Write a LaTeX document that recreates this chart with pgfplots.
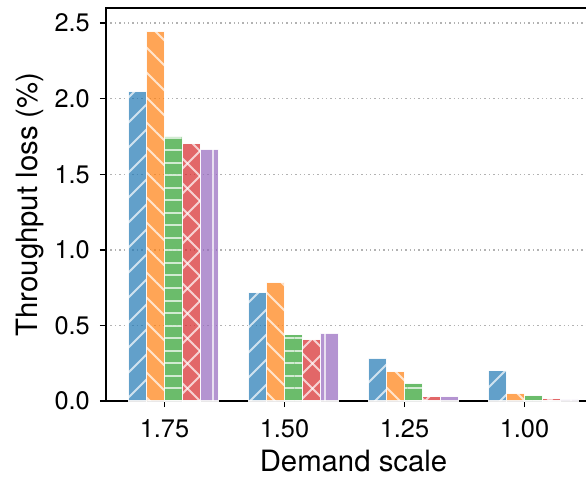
\documentclass[border=0pt]{standalone}
\usepackage{fontspec}
\setmainfont{TeX Gyre Heros}
\usepackage{pgfplots}
\pgfplotsset{compat=1.18}
\usetikzlibrary{patterns.meta}
\definecolor{tblue}{RGB}{31,119,180}
\definecolor{torange}{RGB}{255,127,14}
\definecolor{tgreen}{RGB}{44,160,44}
\definecolor{tred}{RGB}{214,39,40}
\definecolor{tpurple}{RGB}{148,103,189}
\begin{document}
\begin{tikzpicture}
\useasboundingbox (-79.5pt,-56.25pt) rectangle (360pt,300.75pt);
\clip (-79.5pt,-56.25pt) rectangle (360pt,300.75pt);
\begin{axis}[
  at={(0,0)}, anchor=south west,
  scale only axis, width=371.25pt, height=294.75pt,
  xmin=-0.4875, xmax=3.6375, ymin=0, ymax=2.6,
  ybar, bar width=0.15,
  xtick={0,1,2,3}, xticklabels={1.75,1.50,1.25,1.00},
  ytick={0,0.5,1,1.5,2,2.5}, yticklabels={0.0,0.5,1.0,1.5,2.0,2.5},
  xtick pos=left, ytick pos=left,
  tick align=outside, major tick length=4.5pt,
  every tick/.style={black, line width=1.1pt},
  axis line style={black, line width=1.3pt},
  ymajorgrids, grid style={dash pattern=on 1.1pt off 2.2pt, gray!60, line width=1pt},
  ticklabel style={font=\fontsize{19}{22}\selectfont},
  xticklabel style={anchor=north, inner sep=0pt, yshift=-9pt},
  yticklabel style={anchor=east, inner sep=0pt, xshift=-7.5pt},
  label style={font=\fontsize{22}{26}\selectfont},
  xlabel={Demand scale}, ylabel={Throughput loss (\%)},
  xlabel style={at={(axis description cs:0.5,-0.17812)}, anchor=base},
  ylabel style={at={(axis description cs:-0.13939,0.5)}, anchor=base},
]
\addplot[bar shift=-0.225, fill=tblue, fill opacity=0.7, draw=white, draw opacity=0.7, line width=1pt,
  postaction={pattern={Lines[angle=45,distance=13.26pt,line width=1.5pt]}, pattern color=white, fill opacity=0.75}]
  coordinates {(0,2.046) (1,0.717) (2,0.283) (3,0.200)};
\addplot[bar shift=-0.075, fill=torange, fill opacity=0.7, draw=white, draw opacity=0.7, line width=1pt,
  postaction={pattern={Lines[angle=-45,distance=13.26pt,line width=1.5pt]}, pattern color=white, fill opacity=0.75}]
  coordinates {(0,2.445) (1,0.785) (2,0.194) (3,0.051)};
\addplot[bar shift=0.075, fill=tgreen, fill opacity=0.7, draw=white, draw opacity=0.7, line width=1pt,
  postaction={pattern={Lines[angle=0,distance=9.4pt,line width=1.5pt]}, pattern color=white, fill opacity=0.75}]
  coordinates {(0,1.750) (1,0.438) (2,0.117) (3,0.035)};
\addplot[bar shift=0.225, fill=tred, fill opacity=0.7, draw=white, draw opacity=0.7, line width=1pt,
  postaction={pattern={Lines[angle=45,distance=13.26pt,line width=1.5pt]}, pattern color=white, fill opacity=0.75},
  postaction={pattern={Lines[angle=-45,distance=13.26pt,line width=1.5pt]}, pattern color=white, fill opacity=0.75}]
  coordinates {(0,1.703) (1,0.409) (2,0.029) (3,0.018)};
\addplot[bar shift=0.375, fill=tpurple, fill opacity=0.7, draw=white, draw opacity=0.7, line width=1pt,
  postaction={pattern={Lines[angle=90,distance=16.8pt,xshift=8.55pt,line width=1.5pt]}, pattern color=white, fill opacity=0.75}]
  coordinates {(0,1.666) (1,0.449) (2,0.029) (3,0.011)};
\end{axis}
\end{tikzpicture}
\end{document}
